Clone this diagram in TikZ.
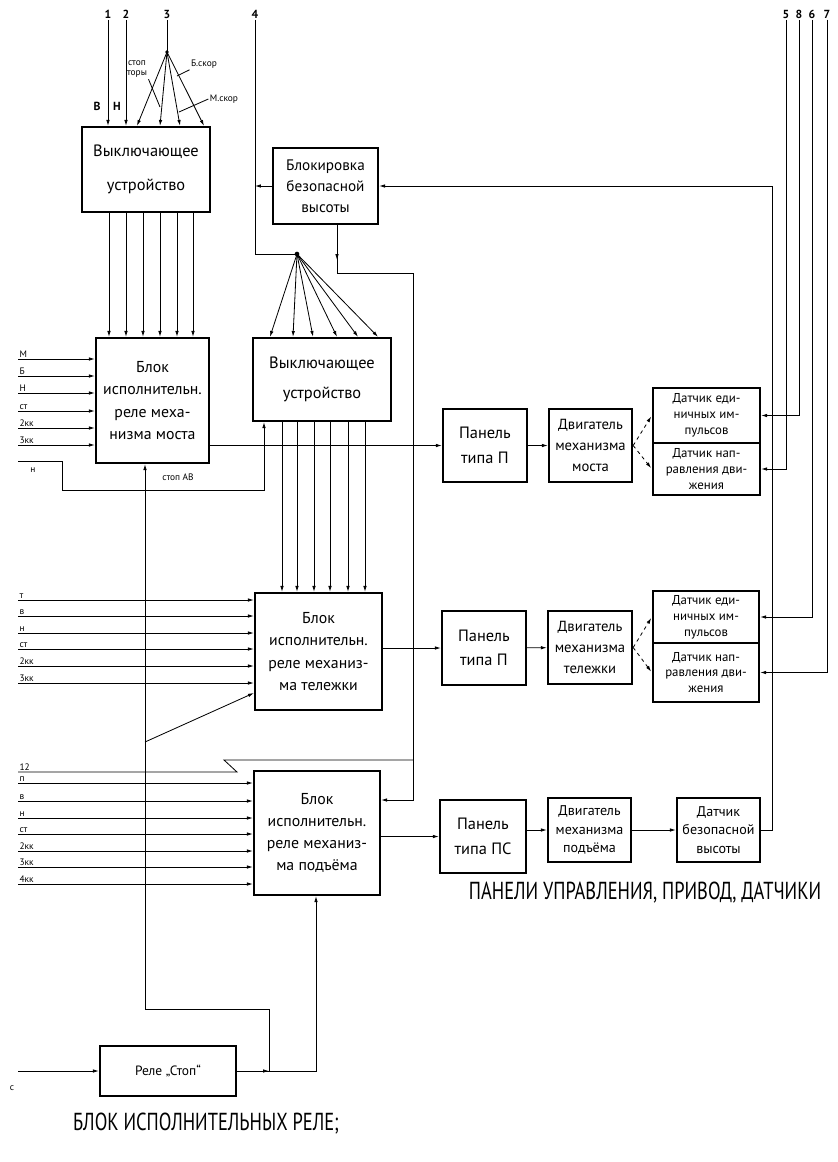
\documentclass[tikz,border=0pt]{standalone}
\usepackage{fontspec}
\setmainfont{PT Sans}
\newfontfamily\titlefont[FakeStretch=0.75]{PT Sans}
\usetikzlibrary{arrows.meta}

\begin{document}
\begin{tikzpicture}[x=0.03cm, y=-0.03cm, line width=0.7pt,
  box/.style={draw, line width=2pt, align=center, inner sep=1pt, font=\fontsize{12.5}{18}\selectfont},
  arr/.style={-{Latex[length=5pt,width=3pt]}},
  lbl/.style={inner sep=1pt, font=\fontsize{8}{9}\selectfont},
  num/.style={inner sep=1pt, font=\bfseries\fontsize{10}{10}\selectfont},
  ttl/.style={inner sep=0pt, font=\titlefont\fontsize{21}{21}\selectfont}]
  \useasboundingbox (0,0) rectangle (838,1162);

  % switching units and relay blocks
  \node[box, minimum width=3.84cm, minimum height=2.55cm, font=\fontsize{14}{29}\selectfont] (v1) at (146,169.5) {Выключающее\\устройство};
  \node[box, minimum width=3.15cm, minimum height=2.28cm, font=\fontsize{13}{18}\selectfont] (blk) at (325.5,186) {Блокировка\\безопасной\\высоты};
  \node[box, minimum width=3.39cm, minimum height=3.75cm, font=\fontsize{13.5}{19}\selectfont] (bm) at (152.5,400.5) {Блок\\исполнительн.\\реле меха-\\низма моста};
  \node[box, minimum width=4.14cm, minimum height=2.49cm, font=\fontsize{14}{26}\selectfont] (v2) at (322,379.5) {Выключающее\\устройство};
  \node[box, minimum width=3.81cm, minimum height=3.51cm, font=\fontsize{13.5}{19}\selectfont] (bt) at (318.5,651.5) {Блок\\исполнительн.\\реле механиз-\\ма тележки};
  \node[box, minimum width=3.78cm, minimum height=3.72cm, font=\fontsize{13.5}{19}\selectfont] (bp) at (317,833) {Блок\\исполнительн.\\реле механиз-\\ма подъёма};
  \node[box, minimum width=4.08cm, minimum height=1.5cm, font=\fontsize{11.5}{14}\selectfont] (rs) at (168,1071) {Реле „Стоп“};

  % panels, drives, sensors
  \node[box, minimum width=2.52cm, minimum height=2.19cm, font=\fontsize{14}{21}\selectfont] (pm) at (485,445.5) {Панель\\типа П};
  \node[box, minimum width=2.49cm, minimum height=2.19cm] (dm) at (590.5,445.5) {Двигатель\\механизма\\моста};
  \node[box, minimum width=3.21cm, minimum height=1.65cm, font=\fontsize{11}{13.5}\selectfont] (sim) at (706.5,415.5) {Датчик еди-\\ничных им-\\пульсов};
  \node[box, minimum width=3.21cm, minimum height=1.56cm, font=\fontsize{11}{13.5}\selectfont] (snm) at (706.5,469) {Датчик нап-\\равления дви-\\жения};
  \node[box, minimum width=2.52cm, minimum height=2.22cm, font=\fontsize{14}{21}\selectfont] (pt) at (484,648) {Панель\\типа П};
  \node[box, minimum width=2.52cm, minimum height=2.19cm] (dt) at (590,647.5) {Двигатель\\механизма\\тележки};
  \node[box, minimum width=3.18cm, minimum height=1.56cm, font=\fontsize{11}{13.5}\selectfont] (sit) at (706,617) {Датчик еди-\\ничных им-\\пульсов};
  \node[box, minimum width=3.18cm, minimum height=1.77cm, font=\fontsize{11}{13.5}\selectfont] (snt) at (706,672.5) {Датчик нап-\\равления дви-\\жения};
  \node[box, minimum width=2.58cm, minimum height=2.19cm, font=\fontsize{14}{21}\selectfont] (pp) at (483,836.5) {Панель\\типа ПС};
  \node[box, minimum width=2.49cm, minimum height=1.92cm, font=\fontsize{12}{16}\selectfont] (dp) at (589.5,830) {Двигатель\\механизма\\подъёма};
  \node[box, minimum width=2.49cm, minimum height=1.92cm, font=\fontsize{12}{16}\selectfont] (sb) at (718.5,830) {Датчик\\безопасной\\высоты};

  % numbered inputs at the top
  \node[num] (n1) at (108,14) {1};
  \node[num] (n2) at (126,14) {2};
  \node[num] (n3) at (167,14) {3};
  \node[num] (n4) at (255,14) {4};
  \node[num] (n5) at (786,14) {5};
  \node[num] (n8) at (799,14) {8};
  \node[num] (n6) at (812,14) {6};
  \node[num] (n7) at (827,14) {7};
  \coordinate (f3) at (167,52);
  \coordinate (f4) at (297,254);
  \fill (f3) circle[radius=1.6pt];
  \fill (f4) circle[radius=2pt];

  \draw[arr] (n1) -- (n1 |- v1.north);
  \draw[arr] (n2) -- (n2 |- v1.north);
  \draw (n3) -- (f3);
  \foreach \x in {137,160,180,204}
    \draw[arr] (f3) -- (v1.north -| \x,0);
  \node[num] (lv) at (97,106) {В};
  \node[num] (ln) at (117,106) {Н};
  \node[lbl, align=center] (lst) at (137,69) {стоп\\торы};
  \node[lbl] (lbs) at (204,64) {Б.скор};
  \node[lbl] (lms) at (224,99) {М.скор};
  \draw (lst.south east) -- (160,107);
  \draw (lbs.south west) -- (177,76);
  \draw (lms.west) -- (179,112);

  \foreach \x in {109,126,143,160,177,193}
    \draw[arr] (v1.south -| \x,0) -- (bm.north -| \x,0);
  \draw (n4) |- (f4);
  \foreach \x in {270,293,313,337,358,378}
    \draw[arr] (f4) -- (v2.north -| \x,0);
  \foreach \x in {282,297,314,330,348,365}
    \draw[arr] (v2.south -| \x,0) -- (bt.north -| \x,0);

  % safe height interlock
  \draw[arr] (blk.west) -- (blk.west -| n4);
  \draw[arr] (blk.south -| 337,0) -- (337,260);
  \draw[arr] (blk.south -| 337,0) -- (337,273) -- (413,273) -- (413,800) -- (bp.east |- 0,800);
  \draw[arr] (sb.east) -| (772,186) -- (blk.east);

  % sensor lines on the right
  \draw[arr] (n5) |- (snm.east);
  \draw[arr] (n8) |- (sim.east);
  \draw[arr] (n6) |- (sit.east);
  \draw[arr] (n7) |- (snt.east);

  % left inputs
  \foreach \y/\t in {359/М, 376/Б, 393/Н, 411/ст, 428/2кк, 445/3кк} {
    \coordinate (im\y) at (18,\y);
    \node[lbl, anchor=south west] (tm\y) at (im\y) {\t};
    \draw[arr] (im\y) -- (bm.west |- im\y);
  }
  \foreach \y/\t in {600/т, 616/в, 633/н, 649/ст, 666/2кк, 683/3кк} {
    \coordinate (it\y) at (18,\y);
    \node[lbl, anchor=south west] (tt\y) at (it\y) {\t};
    \draw[arr] (it\y) -- (bt.west |- it\y);
  }
  \foreach \y/\t in {783/п, 801/в, 818/н, 834/ст, 851/2кк, 867/3кк, 884/4кк} {
    \coordinate (ip\y) at (18,\y);
    \node[lbl, anchor=south west] (tp\y) at (ip\y) {\t};
    \draw[arr] (ip\y) -- (bp.west |- ip\y);
  }
  \coordinate (i12) at (18,772);
  \node[lbl, anchor=south west] (t12) at (i12) {12};
  \draw (i12) -- (237,772) -- (224,760) -- (413,760);

  \coordinate (inn) at (18,461);
  \node[lbl] (tnn) at (33,470) {н};
  \draw[arr] (inn) -- (62,461) -- (62,490) -| (v2.south -| 264,0);

  % outputs to panels and drives
  \draw[arr] (bm.east |- pm.west) -- (pm.west);
  \draw[arr] (pm) -- (dm);
  \draw[arr, dashed, shorten >=1pt] (dm.east) -- (sim.west);
  \draw[arr, dashed, shorten >=1pt] (dm.east) -- (snm.west);
  \draw[arr] (bt.east |- pt.west) -- (pt.west);
  \draw[arr] (pt) -- (dt);
  \draw[arr, dashed, shorten >=1pt] (dt.east) -- (sit.west);
  \draw[arr, dashed, shorten >=1pt] (dt.east) -- (snt.west);
  \draw[arr] (bp.east |- pp.west) -- (pp.west);
  \draw[arr] (pp.east |- dp.west) -- (dp.west);
  \draw[arr] (dp) -- (sb);

  % stop relay
  \coordinate (ic) at (18,1071);
  \node[lbl] (tc) at (12,1088) {с};
  \coordinate (j1) at (269,1071);
  \coordinate (j2) at (145,742);
  \draw[arr] (ic) -- (rs.west);
  \draw[arr] (rs.east) -- (j1);
  \draw[arr] (rs.east) -- (316,1071) -- (bp.south -| 316,0);
  \draw[arr] (j1) -- (269,1009) -- (145,1009) -- (bm.south -| 145,0);
  \draw[arr] (j2) -- (bt.west |- 0,693);
  \node[lbl] (lsa) at (178,477) {стоп АВ};

  \node[ttl] (t1) at (645,893) {ПАНЕЛИ УПРАВЛЕНИЯ, ПРИВОД, ДАТЧИКИ};
  \node[ttl] (t2) at (206,1124) {БЛОК ИСПОЛНИТЕЛЬНЫХ РЕЛЕ;};
\end{tikzpicture}
\end{document}
